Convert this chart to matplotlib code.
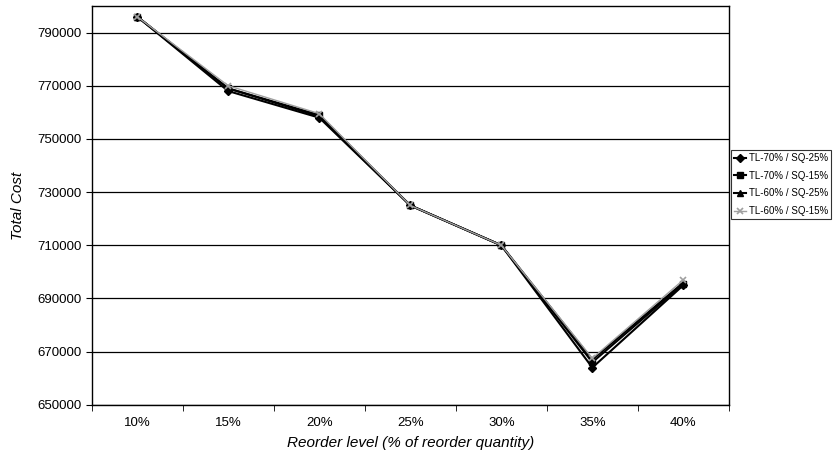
import matplotlib
matplotlib.use("Agg")
from matplotlib import pyplot as plt
import numpy as np

plt.rcParams['font.family'] = ['Liberation Sans', 'DejaVu Sans']

levels = ['10%', '15%', '20%', '25%', '30%', '35%', '40%']
tl70_sq25 = [796000, 768000, 758000, 725000, 710000, 664000, 695000]
tl70_sq15 = [796000, 769000, 759000, 725000, 710000, 666000, 695500]
tl60_sq25 = [796000, 769000, 758500, 725000, 710000, 667000, 696000]
tl60_sq15 = [796000, 770000, 759500, 725000, 710000, 667500, 697000]
y_ticks = [650000, 670000, 690000, 710000, 730000, 750000, 770000, 790000]

fig = plt.figure(figsize=(8.33, 4.59), dpi=100)
ax = fig.add_axes([0.110, 0.118, 0.765, 0.869])

x = np.arange(len(levels))
ax.plot(x, tl70_sq25, color='black', lw=1.5, marker='D', ms=4, label='TL-70% / SQ-25%')
ax.plot(x, tl70_sq15, color='black', lw=1.5, marker='s', ms=5, label='TL-70% / SQ-15%')
ax.plot(x, tl60_sq25, color='black', lw=1.5, marker='^', ms=5, label='TL-60% / SQ-25%')
ax.plot(x, tl60_sq15, color='#a0a0a0', lw=1.0, marker='x', ms=5, mew=1.2, label='TL-60% / SQ-15%')

ax.set_xlim(-0.5, len(levels) - 0.5)
ax.set_ylim(650000, 800000)
ax.set_yticks(y_ticks)
ax.set_yticklabels([str(v) for v in y_ticks], fontsize=9.5)
ax.set_xticks(x)
ax.set_xticklabels(levels, fontsize=9.5)
ax.tick_params(axis='x', length=0, pad=9)
ax.set_xticks(np.arange(-0.5, len(levels), 1), minor=True)
ax.tick_params(axis='x', which='minor', length=4, direction='out')
ax.tick_params(axis='y', length=4, direction='out', pad=3)
ax.grid(axis='y', color='black', lw=0.9)
ax.set_axisbelow(True)
for s in ax.spines.values():
    s.set_color('black')
    s.set_linewidth(1.0)

ax.set_xlabel('Reorder level (% of reorder quantity)', fontsize=11, style='italic', labelpad=5)
ax.set_ylabel('Total Cost', fontsize=11, style='italic', labelpad=9)

leg = ax.legend(loc='upper right', bbox_to_anchor=(831 / 833, 1 - 150 / 459),
                bbox_transform=fig.transFigure, frameon=True,
                prop={'family': ['Liberation Sans Narrow', 'Liberation Sans'], 'size': 7},
                fancybox=False, edgecolor='black', handlelength=1.3,
                borderpad=0.3, labelspacing=0.8, handletextpad=0.25, borderaxespad=0)
leg.get_frame().set_linewidth(0.8)

fig.savefig('out.png', dpi=100)
